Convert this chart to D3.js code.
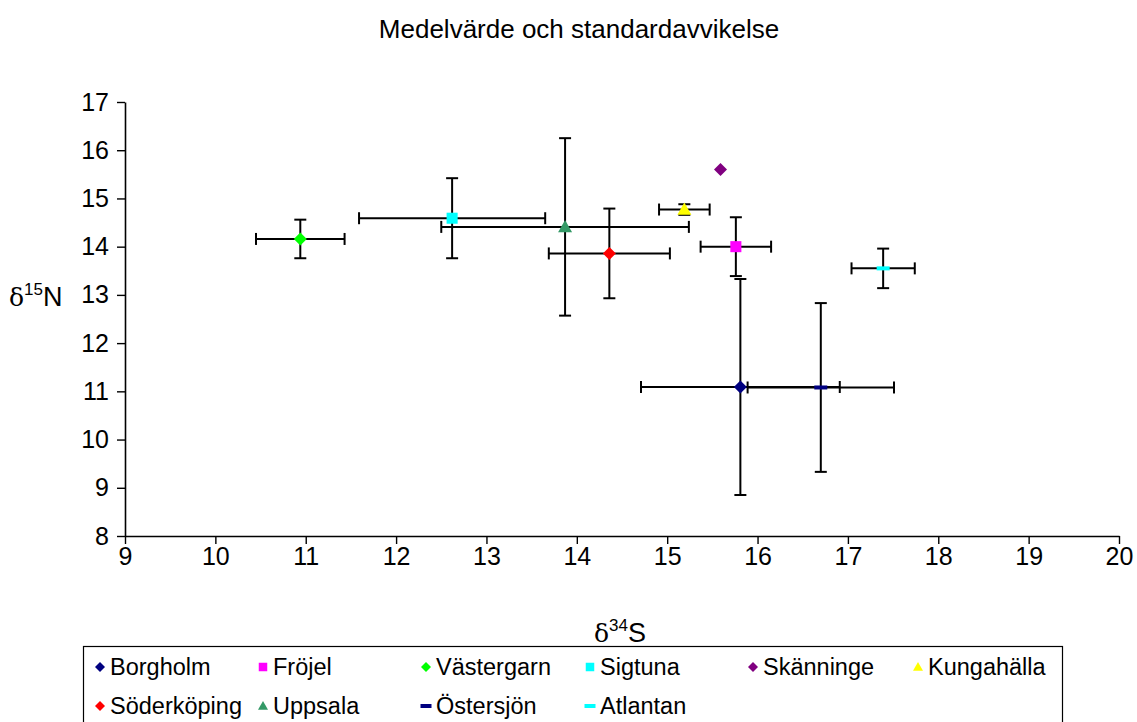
<!DOCTYPE html>
<html>
<head>
<meta charset="utf-8">
<script src="https://cdn.jsdelivr.net/npm/d3@7"></script>
<style>
  html, body { margin: 0; padding: 0; background: #fff; }
  svg { display: block; font-family: "Liberation Sans", Arial, sans-serif; }
</style>
</head>
<body>
<svg id="chart" width="1137" height="722"></svg>
<script>
// Mean and standard deviation of δ34S / δ15N per site
const sites   = ["Borgholm", "Fröjel", "Västergarn", "Sigtuna", "Skänninge", "Kungahälla", "Söderköping", "Uppsala", "Östersjön", "Atlantan"];
const meanS   = [15.81, 15.76, 10.94, 12.62, 15.59, 15.19, 14.36, 13.87, 16.70, 17.39];
const meanN   = [11.09, 14.00, 14.16, 14.59, 15.60, 14.77, 13.86, 14.41, 11.08, 13.55];
const sdS     = [1.10, 0.39, 0.49, 1.03, null, 0.28, 0.67, 1.37, 0.81, 0.35];
const sdN     = [2.24, 0.61, 0.40, 0.83, null, 0.11, 0.93, 1.84, 1.75, 0.41];
const colors  = ["#000080", "#FF00FF", "#00FF00", "#00FFFF", "#800080", "#FFFF00", "#FF0000", "#339966", "#000080", "#00FFFF"];
const shapes  = ["diamond", "square", "diamond", "square", "diamond", "triangle", "diamond", "triangle", "dash", "dash"];

const xTicks = [9, 10, 11, 12, 13, 14, 15, 16, 17, 18, 19, 20];
const yTicks = [8, 9, 10, 11, 12, 13, 14, 15, 16, 17];

const titleText = "Medelvärde och standardavvikelse";

const svg = d3.select("#chart");

const x = d3.scaleLinear().domain([9, 20]).range([125, 1119]);
const y = d3.scaleLinear().domain([8, 17]).range([536, 102]);

// Title
svg.append("text")
  .attr("x", 579).attr("y", 38)
  .attr("text-anchor", "middle")
  .attr("font-size", 26)
  .attr("fill", "#000")
  .text(titleText);

// Axes
const xAxis = d3.axisBottom(x).tickValues(xTicks).tickSize(8).tickSizeOuter(0).tickPadding(3);
const yAxis = d3.axisLeft(y).tickValues(yTicks).tickSize(8).tickSizeOuter(0).tickPadding(8);

const gx = svg.append("g").attr("transform", `translate(0,${y(8)})`).call(xAxis);
const gy = svg.append("g").attr("transform", `translate(${x(9)},0)`).call(yAxis);

[gx, gy].forEach(g => {
  g.select(".domain").attr("stroke", "#000").attr("stroke-width", 1.6);
  g.selectAll(".tick line").attr("stroke", "#000").attr("stroke-width", 1.4);
  g.selectAll(".tick text").attr("font-size", 25).attr("fill", "#000")
    .attr("font-family", "'Liberation Sans', Arial, sans-serif");
});

// Axis titles with delta and superscript
function deltaLabel(px, py, sup, letter, anchor) {
  const t = svg.append("text")
    .attr("x", px).attr("y", py)
    .attr("text-anchor", anchor)
    .attr("font-size", 27).attr("fill", "#000");
  t.append("tspan").attr("font-family", "'DejaVu Serif', serif").attr("font-size", 25).text("δ");
  t.append("tspan").attr("font-size", 17).attr("dy", -11).text(sup);
  t.append("tspan").attr("dy", 11).text(letter);
}
deltaLabel(620, 642, "34", "S", "middle");
deltaLabel(9, 306, "15", "N", "start");

// Error bars
const cap = 6;
const bars = svg.append("g").attr("stroke", "#000").attr("stroke-width", 2).attr("fill", "none");
sites.forEach((s, i) => {
  const cx = x(meanS[i]), cy = y(meanN[i]);
  if (sdS[i] != null) {
    const x0 = x(meanS[i] - sdS[i]), x1 = x(meanS[i] + sdS[i]);
    bars.append("line").attr("x1", x0).attr("x2", x1).attr("y1", cy).attr("y2", cy);
    bars.append("line").attr("x1", x0).attr("x2", x0).attr("y1", cy - cap).attr("y2", cy + cap);
    bars.append("line").attr("x1", x1).attr("x2", x1).attr("y1", cy - cap).attr("y2", cy + cap);
  }
  if (sdN[i] != null) {
    const y0 = y(meanN[i] - sdN[i]), y1 = y(meanN[i] + sdN[i]);
    bars.append("line").attr("x1", cx).attr("x2", cx).attr("y1", y0).attr("y2", y1);
    bars.append("line").attr("x1", cx - cap).attr("x2", cx + cap).attr("y1", y0).attr("y2", y0);
    bars.append("line").attr("x1", cx - cap).attr("x2", cx + cap).attr("y1", y1).attr("y2", y1);
  }
});

// Marker drawing helper
function marker(g, shape, color, size) {
  const h = size / 2;
  if (shape === "diamond") {
    g.append("path").attr("d", `M0,${-h}L${h},0L0,${h}L${-h},0Z`).attr("fill", color);
  } else if (shape === "square") {
    g.append("rect").attr("x", -h * 0.85).attr("y", -h * 0.85).attr("width", size * 0.85).attr("height", size * 0.85).attr("fill", color);
  } else if (shape === "triangle") {
    g.append("path").attr("d", `M0,${-h}L${h},${h * 0.75}L${-h},${h * 0.75}Z`).attr("fill", color);
  } else if (shape === "dash") {
    g.append("rect").attr("x", -h).attr("y", -2).attr("width", size).attr("height", 4).attr("fill", color);
  }
}

const pts = svg.append("g");
sites.forEach((s, i) => {
  const g = pts.append("g").attr("transform", `translate(${x(meanS[i])},${y(meanN[i])})`);
  marker(g, shapes[i], colors[i], shapes[i] === "triangle" ? 14 : 13);
});

// Legend
const legend = svg.append("g");
legend.append("rect")
  .attr("x", 83.5).attr("y", 646.5).attr("width", 979).attr("height", 80)
  .attr("fill", "#fff").attr("stroke", "#000").attr("stroke-width", 1.2);

const colX = [100, 263, 426, 590, 753, 918];
const rowY = [667, 706];
sites.forEach((s, i) => {
  const c = i % 6, r = Math.floor(i / 6);
  const g = legend.append("g").attr("transform", `translate(${colX[c]},${rowY[r]})`);
  marker(g, shapes[i], colors[i], shapes[i] === "dash" ? 11 : 10);
  legend.append("text")
    .attr("x", colX[c] + 10).attr("y", rowY[r] + 8)
    .attr("font-size", 23.5).attr("fill", "#000")
    .text(s);
});
</script>
</body>
</html>
